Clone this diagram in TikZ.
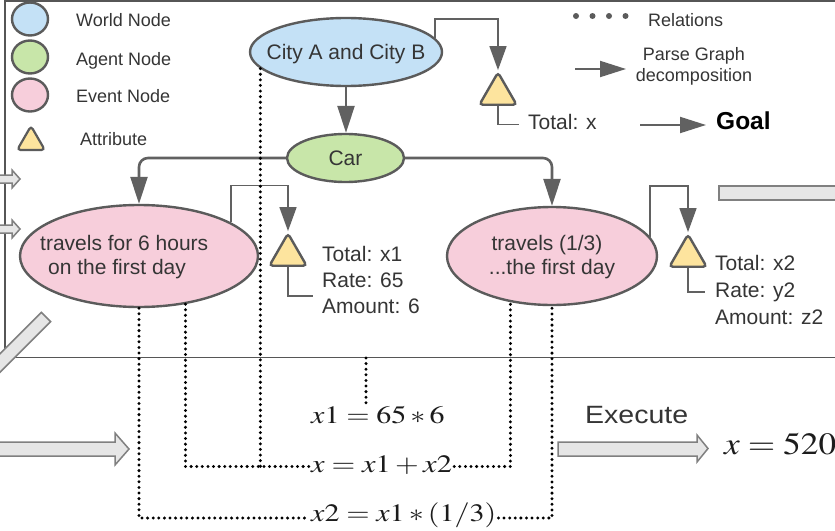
\documentclass[tikz,border=0pt]{standalone}
\usepackage{mathptmx}
\usepackage[no-math]{fontspec}
\setmainfont{Liberation Sans}
\usetikzlibrary{arrows.meta,shapes.geometric,calc}

\definecolor{edgegray}{HTML}{5B5B5B}
\definecolor{arrowgray}{HTML}{616161}
\definecolor{framegray}{HTML}{565656}
\definecolor{worldblue}{HTML}{C4E1F6}
\definecolor{agentgreen}{HTML}{C8E6A9}
\definecolor{eventpink}{HTML}{F7CEDB}
\definecolor{attryellow}{HTML}{FDE49E}
\definecolor{blockfill}{HTML}{E6E6E6}
\definecolor{blockedge}{HTML}{808080}
\definecolor{textgray}{HTML}{353535}
\definecolor{eqcolor}{HTML}{1C1C1C}

\begin{document}
\begin{tikzpicture}[x=1pt,y=-1pt,
  nodeline/.style={draw=edgegray, line width=2.4pt},
  blob/.style={nodeline, ellipse, inner sep=-30pt, text depth=0pt, text=textgray,
    font=\fontsize{21}{25}\selectfont},
  world/.style={blob, fill=worldblue},
  agent/.style={blob, fill=agentgreen},
  event/.style={blob, fill=eventpink},
  attr/.style={nodeline, fill=attryellow, regular polygon, regular polygon sides=3,
    minimum size=43pt, rounded corners=3.5pt, inner sep=0pt},
  lbl/.style={text=textgray, inner sep=0pt, font=\fontsize{21}{25}\selectfont},
  legendlbl/.style={lbl, font=\fontsize{18}{21}\selectfont},
  flow/.style={draw=arrowgray, line width=2.6pt, rounded corners=9pt,
    -{Triangle[length=27pt,width=17pt]}},
  attrlink/.style={draw=arrowgray, line width=1.6pt, -{Triangle[length=24pt,width=17pt]}},
  attrtail/.style={draw=arrowgray, line width=1.6pt},
  legendarrow/.style={draw=arrowgray, line width=2pt, -{Triangle[length=26pt,width=16pt]}},
  rel/.style={draw=black, line width=3.3pt, line cap=round, dash pattern=on 0pt off 5.6pt},
  blockarrow/.style={draw=blockedge, fill=blockfill, line width=1.5pt},
  frameline/.style={draw=framegray, line width=1.8pt},
  eq/.style={inner xsep=2pt, inner ysep=0pt, text=eqcolor, font=\fontsize{25}{30}\selectfont},
]
\useasboundingbox (0,0) rectangle (835,530);
\clip (0,0) rectangle (835,530);
\fill[white] (0,0) rectangle (835,530);

% panel frame (open to the right)
\draw[frameline] (845,1) -- (5,1) -- (5,357.5) -- (845,357.5);

% grey block arrows entering and leaving the panel
\draw[blockarrow] (-5,175) -- (12,175) -- (12,170) -- (20,179) -- (12,188) -- (12,183) -- (-5,183) -- cycle;
\draw[blockarrow] (-5,225) -- (12,225) -- (12,220) -- (20,229) -- (12,238) -- (12,233) -- (-5,233) -- cycle;
\draw[blockarrow] (41.4,312.4) -- (50.6,321.6) -- (-15.4,387.6) -- (-24.6,378.4) -- cycle;
\draw[blockarrow] (719,186) rectangle (845,200);
\draw[blockarrow] (-5,442) -- (115,442) -- (115,433) -- (129,449) -- (115,465) -- (115,456) -- (-5,456) -- cycle;
\draw[blockarrow] (558,442) -- (697,442) -- (697,435) -- (708,448.5) -- (697,462) -- (697,456) -- (558,456) -- cycle;

% legend
\node[nodeline, ellipse, fill=worldblue, minimum width=36pt, minimum height=33pt, inner sep=0pt] (lgworld) at (30,19) {};
\node[nodeline, ellipse, fill=agentgreen, minimum width=36pt, minimum height=33pt, inner sep=0pt] (lgagent) at (30,57) {};
\node[nodeline, ellipse, fill=eventpink, minimum width=36pt, minimum height=33pt, inner sep=0pt] (lgevent) at (30,95) {};
\node[attr, minimum size=32pt, line width=2.2pt] (lgattr) at (31,142) {};
\node[legendlbl, anchor=base west] (lgworldt) at (76,26.5) {World Node};
\node[legendlbl, anchor=base west] (lgagentt) at (76,65) {Agent Node};
\node[legendlbl, anchor=base west] (lgeventt) at (76,102.5) {Event Node};
\node[legendlbl, anchor=base west] (lgattrt) at (80,145.5) {Attribute};

\coordinate (relA) at (576,16);
\coordinate (relB) at (626,16);
\draw[draw=edgegray, line width=6pt, line cap=round, dash pattern=on 0pt off 16.5pt] (relA) -- (relB);
\node[legendlbl, anchor=base west] (lgrel) at (648,26) {Relations};

\coordinate (pgA) at (575,69);
\coordinate (pgB) at (626,69);
\draw[legendarrow] (pgA) -- (pgB);
\node[legendlbl, anchor=base] (lgpg1) at (694,60) {Parse Graph};
\node[legendlbl, anchor=base] (lgpg2) at (694,81.5) {decomposition};

\coordinate (goalA) at (640,125);
\coordinate (goalB) at (706,125);
\draw[legendarrow] (goalA) -- (goalB);
\node[anchor=base west, inner sep=0pt, font=\fontsize{24.5}{28}\selectfont\bfseries] (goal) at (716,129) {Goal};

% parse graph
\node[world, minimum width=192pt, minimum height=68pt] (city) at (346,52) {City A and City B};
\node[agent, minimum width=117pt, minimum height=48pt] (car) at (345.5,158) {Car};
\node[event, minimum width=238pt, minimum height=102pt] (e1) at (139,256) {};
\node[event, minimum width=210pt, minimum height=98pt] (e2) at (552,256) {};

\node[lbl, anchor=base west] (e1la) at (40,250) {travels for 6 hours};
\node[lbl, anchor=base west] (e1lb) at (48,274) {on the first day};
\node[lbl, anchor=base] (e2la) at (547,250) {travels (1/3)};
\node[lbl, anchor=base] (e2lb) at (552,274) {...the first day};

\draw[flow, rounded corners=0pt] (city.south) -- (city.south |- car.north);
\draw[flow] (car.west) -| (e1.north);
\draw[flow] (car.east) -| (e2.north);

% attributes
\node[attr] (a0) at (498,94) {};
\node[attr] (a1) at (288,255) {};
\node[attr] (a2) at (688,256) {};

\draw[attrlink] (city.9.4) -- ++(0,-18.6) -| (a0.north);
\draw[attrlink] (e1.20.8) -- ++(0,-37) -| (a1.north);
\draw[attrlink] (e2.11.7) -- ++(0,-51) -| (a2.north);

\coordinate (t0end) at (519,124.5);
\coordinate (t1end) at (313,296);
\coordinate (t2end) at (705,292);
\draw[attrtail] (a0.south) |- (t0end);
\draw[attrtail] (a1.south) |- (t1end);
\draw[attrtail] (a2.south) |- (t2end);

\node[lbl, anchor=base west] (a0t) at (528,129.5) {Total: x};
\node[lbl, anchor=base west] (a1t1) at (322,261) {Total: x1};
\node[lbl, anchor=base west] (a1t2) at (322,287) {Rate: 65};
\node[lbl, anchor=base west] (a1t3) at (322,313) {Amount: 6};
\node[lbl, anchor=base west] (a2t1) at (715,270) {Total: x2};
\node[lbl, anchor=base west] (a2t2) at (715,297) {Rate: y2};
\node[lbl, anchor=base west] (a2t3) at (715,324) {Amount: z2};

% equations
\node[eq, anchor=base west] (eqA) at (309,423) {\scalebox{1.2}[1]{$x1 = 65 \ast 6$}};
\node[eq, anchor=base west, text height=11pt, text depth=0pt] (eqB) at (309,472) {\scalebox{1.22}[1]{$x = x1 + x2$}};
\node[eq, anchor=base west, text height=7pt, text depth=0pt] (eqC) at (309,521.5) {\scalebox{1.2}[1]{$x2 = x1 \ast (1/3)$}};

\coordinate (x1top) at (366,358);
\draw[rel] (x1top) -- (x1top |- eqA.north);
\draw[rel] (e1.south) |- (eqC.west);
\draw[rel] (eqC.east) -| (e2.south);
\draw[rel] (e1.-46) |- (eqB.west);
\draw[rel] (city.-169) -- (city.-169 |- eqB.west);
\draw[rel] (eqB.east) -| (e2.-132);

% execution
\node[anchor=base west, inner sep=0pt, text=textgray, font=\fontsize{25}{30}\selectfont] (exec) at (585,423) {\scalebox{1.14}[1]{Execute}};
\node[anchor=base west, inner sep=0pt, text=eqcolor, font=\fontsize{31}{36}\selectfont] (result) at (724,454) {\scalebox{1.14}[1]{$x = 520$}};

\end{tikzpicture}
\end{document}
